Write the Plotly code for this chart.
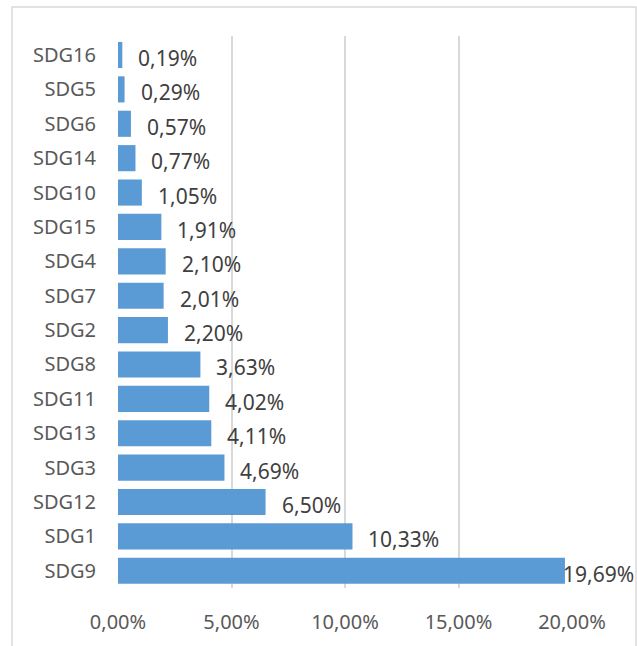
import plotly.graph_objects as go

categories = ["SDG16", "SDG5", "SDG6", "SDG14", "SDG10", "SDG15", "SDG4", "SDG7",
              "SDG2", "SDG8", "SDG11", "SDG13", "SDG3", "SDG12", "SDG1", "SDG9"]
values = [0.19, 0.29, 0.57, 0.77, 1.05, 1.91, 2.10, 2.01,
          2.20, 3.63, 4.02, 4.11, 4.69, 6.50, 10.33, 19.69]
x_ticks = [0, 0.05, 0.10, 0.15, 0.20]

fracs = [v / 100 for v in values]
FONT = "Noto Sans"

fig = go.Figure()
fig.add_trace(go.Bar(
    y=categories, x=fracs, orientation="h",
    marker=dict(color="#5B9BD5", line=dict(width=0)),
    hoverinfo="skip",
))

xmax = 0.20
for c, f in zip(categories, fracs):
    shift = -4 if f > 0.9 * xmax else 14
    fig.add_annotation(
        x=f, y=c, xref="x", yref="y",
        text=f"{f*100:.2f}%".replace(".", ","),
        showarrow=False, xanchor="left", yanchor="middle",
        xshift=shift, yshift=-3,
        font=dict(family=FONT, size=21, color="#404040"),
    )

# outer chart border
fig.add_shape(type="rect", xref="paper", yref="paper",
              x0=-0.2335, x1=1.141, y0=-0.12, y1=1.0525,
              line=dict(color="#D9D9D9", width=1.5), fillcolor="rgba(0,0,0,0)",
              layer="below")

fig.update_layout(
    width=637, height=646,
    margin=dict(l=118, r=65, t=36, b=58),
    paper_bgcolor="white", plot_bgcolor="white",
    bargap=0.24,
    separators=",.",
    showlegend=False,
    font=dict(family=FONT, size=20, color="#595959"),
    xaxis=dict(
        range=[0, xmax], tickvals=x_ticks, tickformat=".2%",
        showgrid=True, gridcolor="#D9D9D9", gridwidth=1.5,
        zeroline=False, showline=False, ticks="",
        ticklabelstandoff=20,
        tickfont=dict(family=FONT, size=20, color="#595959"),
        fixedrange=True,
    ),
    yaxis=dict(
        categoryorder="array", categoryarray=categories, autorange="reversed",
        showgrid=False, zeroline=False, showline=False, ticks="",
        ticklabelstandoff=21,
        tickfont=dict(family=FONT, size=20, color="#595959"),
        fixedrange=True,
    ),
)

fig.write_html("out.html", config={"displayModeBar": False},
               post_script="document.body.style.margin='0px';document.body.style.overflow='hidden';")
